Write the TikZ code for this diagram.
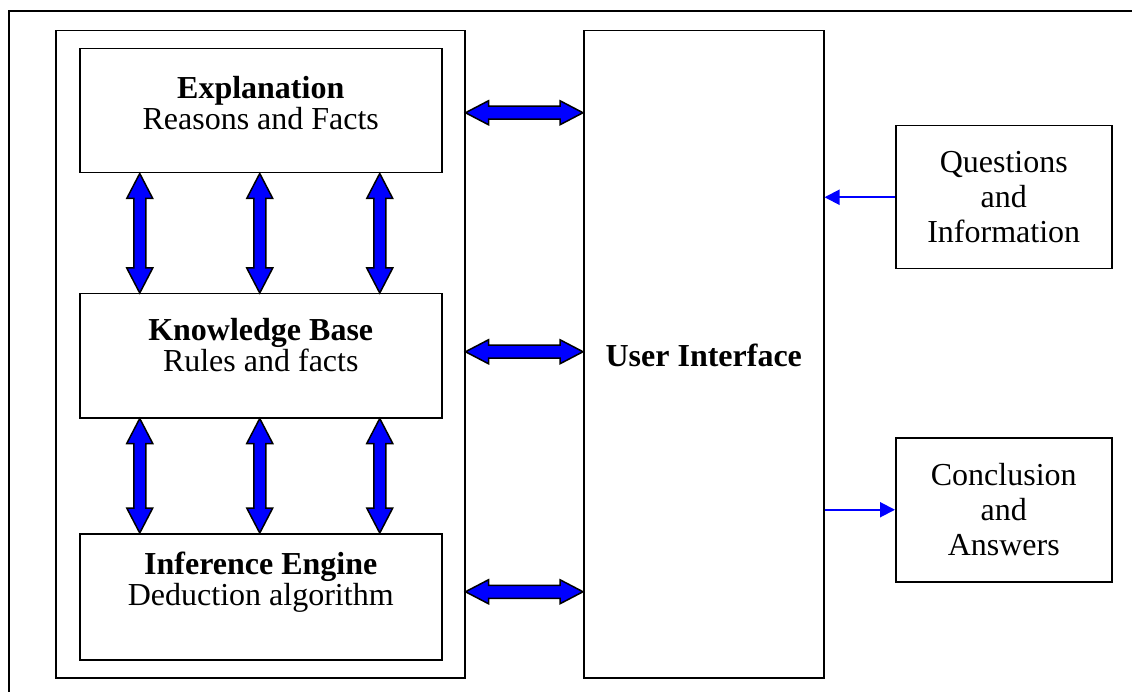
\documentclass[tikz,border=0pt]{standalone}
\usepackage{fontspec}
\setmainfont{Liberation Serif}
\usetikzlibrary{calc,arrows.meta}
\tikzset{
  frameline/.style={line width=2pt},
  box/.style={draw, line width=1.5pt, inner sep=0pt, anchor=north west},
  boxtext/.style={align=center, font=\fontsize{32}{31}\selectfont},
  sidetext/.style={align=center, font=\fontsize{32}{35}\selectfont},
  bigarrow/.style={fill=blue, draw=black, line width=1.5pt, line join=miter},
  thinarr/.style={draw=blue, line width=2pt, -{Triangle[length=15pt,width=15pt]}}
}
\newcommand\vdarr[2]{\path[bigarrow] let \p1=#1, \p2=#2 in
  (\x1,\y1) -- (\x1+13pt,\y1-25pt) -- (\x1+6pt,\y1-25pt) -- (\x1+6pt,\y2+25pt)
  -- (\x1+13pt,\y2+25pt) -- (\x1,\y2) -- (\x1-13pt,\y2+25pt) -- (\x1-6pt,\y2+25pt)
  -- (\x1-6pt,\y1-25pt) -- (\x1-13pt,\y1-25pt) -- cycle;}
\newcommand\hdarr[2]{\path[bigarrow] let \p1=#1, \p2=#2 in
  (\x1,\y1) -- (\x1+23pt,\y1+12pt) -- (\x1+23pt,\y1+6.5pt) -- (\x2-23pt,\y1+6.5pt)
  -- (\x2-23pt,\y1+12pt) -- (\x2,\y1) -- (\x2-23pt,\y1-12pt) -- (\x2-23pt,\y1-6.5pt)
  -- (\x1+23pt,\y1-6.5pt) -- (\x1+23pt,\y1-12pt) -- cycle;}
\begin{document}
\begin{tikzpicture}[x=1pt,y=-1pt]
\useasboundingbox (0,0) rectangle (1132,692);
\draw[frameline] (9,692) -- (9,11) -- (1132,11);

\node[box, minimum width=409pt, minimum height=647pt] (cont) at (55,30) {};
\node[box, minimum width=362pt, minimum height=124pt] (expl) at (79,48) {};
\node[box, minimum width=362pt, minimum height=124pt] (kb) at (79,293) {};
\node[box, minimum width=362pt, minimum height=126pt] (ie) at (79,533) {};
\node[box, minimum width=240pt, minimum height=647pt] (ui) at (583,30) {};
\node[font=\fontsize{32}{32}\selectfont\bfseries] (uilabel) at ($(ui.center)+(0,1)$) {User Interface};
\node[box, minimum width=216pt, minimum height=143pt] (qi) at (895,125) {};
\node[box, minimum width=216pt, minimum height=144pt] (ca) at (895,437) {};

\node[boxtext] (explt) at ($(expl.center)+(0,-8)$) {\textbf{Explanation}\\Reasons and Facts};
\node[boxtext] (kbt) at ($(kb.center)+(0,-11)$) {\textbf{Knowledge Base}\\Rules and facts};
\node[boxtext] (iet) at ($(ie.center)+(0,-15)$) {\textbf{Inference Engine}\\Deduction algorithm};
\node[sidetext] (qit) at (qi.center) {Questions\\and\\Information};
\node[sidetext] (cat) at (ca.center) {Conclusion\\and\\Answers};

\foreach \dx in {-121,-1,119} {
  \vdarr{($(expl.south)+(\dx,0)$)}{($(kb.north)+(\dx,0)$)}
  \vdarr{($(kb.south)+(\dx,0)$)}{($(ie.north)+(\dx,0)$)}
}
\hdarr{($(cont.east |- expl.center)+(0,2)$)}{($(ui.west |- expl.center)+(0,2)$)}
\hdarr{($(cont.east |- kb.center)+(0,-4)$)}{($(ui.west |- kb.center)+(0,-4)$)}
\hdarr{($(cont.east |- ie.center)+(0,-5)$)}{($(ui.west |- ie.center)+(0,-5)$)}

\draw[thinarr] (qi.west) -- (ui.east |- qi.west);
\draw[thinarr] (ui.east |- ca.west) -- (ca.west);
\end{tikzpicture}
\end{document}
